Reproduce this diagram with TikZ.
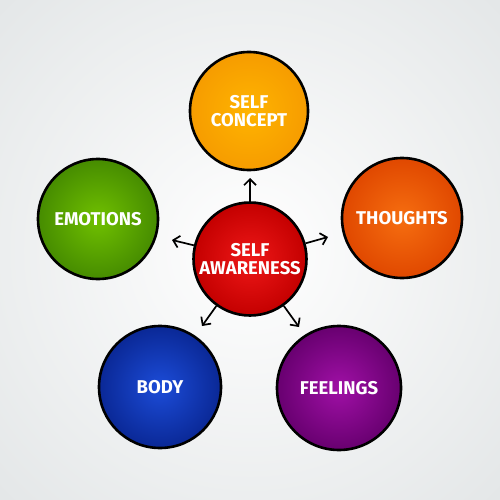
\documentclass[tikz,border=0pt]{standalone}
\usepackage{fontspec}
\setmainfont{Fira Sans}
\usetikzlibrary{arrows.meta}
\definecolor{bgout}{HTML}{E4E7E8}
\tikzset{
  bubble/.style={circle, draw=black, line width=2.6pt, shading=radial,
    text=white, font=\bfseries\fontsize{18.5}{17.5}\selectfont, align=center, inner sep=0pt},
  link/.style={line width=1.7pt, -{Straight Barb[length=6pt,width=12pt,line width=1.7pt]}},
}
\begin{document}
\begin{tikzpicture}[x=1pt,y=-1pt]
\useasboundingbox (0,0) rectangle (500,500);
\shade[inner color=white, outer color=bgout] (-100,-100) rectangle (600,600);
\node[bubble, minimum size=113pt, inner color={rgb,255:red,238;green,24;blue,24}, outer color={rgb,255:red,196;green,0;blue,0}] (c) at (250,259) {SELF\\AWARENESS};
\node[bubble, minimum size=118pt, inner color={rgb,255:red,255;green,180;blue,0}, outer color={rgb,255:red,246;green,156;blue,0}] (t) at (249,111) {SELF\\CONCEPT};
\node[bubble, minimum size=120pt, inner color={rgb,255:red,246;green,110;blue,16}, outer color={rgb,255:red,224;green,72;blue,0}] (r) at (402,218) {THOUGHTS};
\node[bubble, minimum size=120pt, inner color={rgb,255:red,112;green,192;blue,0}, outer color={rgb,255:red,70;green,140;blue,0}] (l) at (98,219) {EMOTIONS};
\node[bubble, minimum size=122pt, inner color={rgb,255:red,28;green,76;blue,216}, outer color={rgb,255:red,10;green,40;blue,150}] (bl) at (160,387) {BODY};
\node[bubble, minimum size=124pt, inner color={rgb,255:red,160;green,16;blue,166}, outer color={rgb,255:red,104;green,0;blue,112}] (br) at (339,388) {FEELINGS};
\coordinate (at) at (250,178);
\coordinate (ar) at (328,237);
\coordinate (al) at (172,240);
\coordinate (abl) at (202,326);
\coordinate (abr) at (299,327);
\draw[link] (c) -- (at);
\draw[link] (c) -- (ar);
\draw[link] (c) -- (al);
\draw[link] (c) -- (abl);
\draw[link] (c) -- (abr);
\end{tikzpicture}
\end{document}
